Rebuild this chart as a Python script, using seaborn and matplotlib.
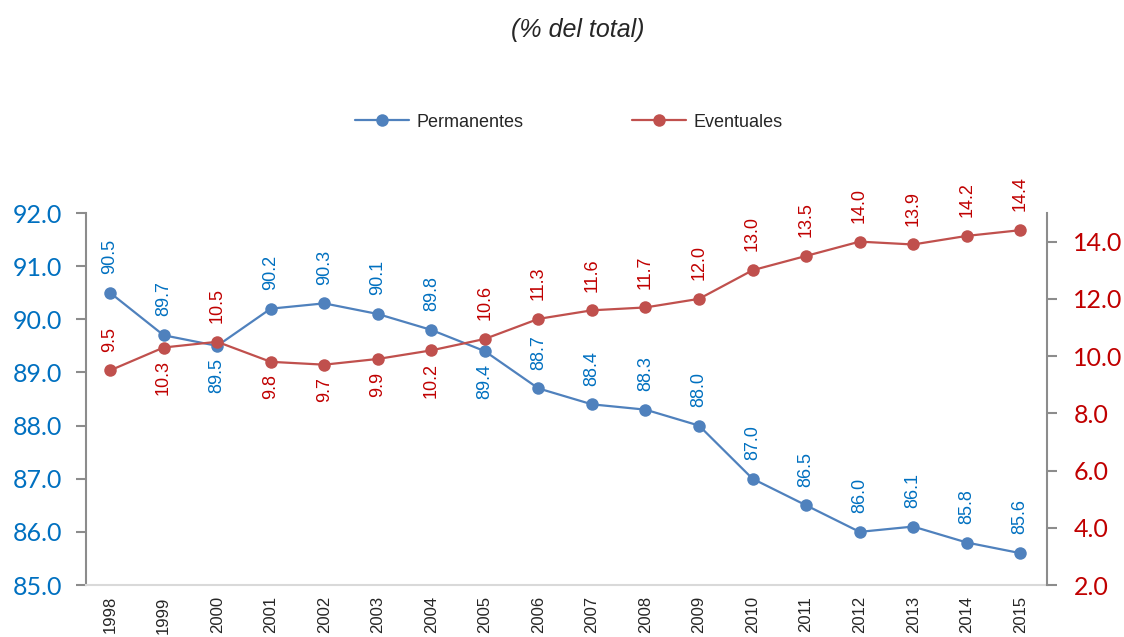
#!/usr/bin/env python3

import pandas as pd
import seaborn as sns
import matplotlib.pyplot as plt
import numpy as np

years = list(range(1998, 2016))
permanentes = [90.5, 89.7, 89.5, 90.2, 90.3, 90.1, 89.8, 89.4, 88.7, 88.4,
               88.3, 88.0, 87.0, 86.5, 86.0, 86.1, 85.8, 85.6]
eventuales = [9.5, 10.3, 10.5, 9.8, 9.7, 9.9, 10.2, 10.6, 11.3, 11.6,
              11.7, 12.0, 13.0, 13.5, 14.0, 13.9, 14.2, 14.4]

# where each data label sits relative to its marker
perm_side = ['up', 'up', 'down', 'up', 'up', 'up', 'up', 'down', 'up', 'up',
             'up', 'up', 'up', 'up', 'up', 'up', 'up', 'up']
even_side = ['up', 'down', 'up', 'down', 'down', 'down', 'down', 'up', 'up', 'up',
             'up', 'up', 'up', 'up', 'up', 'up', 'up', 'up']

BLUE_LINE = '#4F81BD'
RED_LINE = '#C0504D'
BLUE_TXT = '#0070C0'
RED_TXT = '#C00000'


def add_labels(ax, xs, ys, sides, color):
    for x, y, side in zip(xs, ys, sides):
        if side == 'up':
            off, va = 13.5, 'bottom'
        else:
            off, va = -9, 'top'
        ax.annotate(f'{y:.1f}', (x, y), xytext=(0, off), textcoords='offset points',
                    rotation=90, ha='center', va=va, color=color, fontsize=13)


def main():
    sns.set_style('white')
    plt.rcParams['font.family'] = ['Liberation Sans', 'DejaVu Sans']

    df = pd.DataFrame({'year': years, 'Permanentes': permanentes,
                       'Eventuales': eventuales})

    fig = plt.figure(figsize=(11.24, 6.37), dpi=100)
    ax = fig.add_axes([0.0765, 0.0816, 0.855, 0.584])
    ax2 = ax.twinx()

    sns.lineplot(data=df, x='year', y='Permanentes', ax=ax, color=BLUE_LINE,
                 marker='o', markersize=9, markeredgewidth=0, linewidth=1.6,
                 label='Permanentes', legend=False)
    sns.lineplot(data=df, x='year', y='Eventuales', ax=ax2, color=RED_LINE,
                 marker='o', markersize=9, markeredgewidth=0, linewidth=1.6,
                 label='Eventuales', legend=False)

    ax.set_xlim(years[0] - 0.45, years[-1] + 0.5)
    ax.set_ylim(85, 92)
    ax2.set_ylim(2, 15)
    ax.set_yticks(np.arange(85, 92.1, 1))
    ax2.set_yticks(np.arange(2, 14.1, 2))
    ax.set_yticklabels([f'{v:.1f}' for v in np.arange(85, 92.1, 1)],
                       color=BLUE_TXT, fontsize=18, family='Lato')
    ax2.set_yticklabels([f'{v:.1f}' for v in np.arange(2, 14.1, 2)],
                        color=RED_TXT, fontsize=18, family='Lato')
    ax.set_xticks(years)
    ax.set_xticklabels([str(y) for y in years], rotation=90, fontsize=12)

    ax.set_xlabel('')
    ax.set_ylabel('')
    ax2.set_ylabel('')

    for a in (ax, ax2):
        a.spines['top'].set_visible(False)
    ax.spines['right'].set_visible(False)
    ax2.spines['left'].set_visible(False)
    ax2.spines['bottom'].set_visible(False)
    ax.spines['left'].set_color('#8C8C8C')
    ax.spines['left'].set_linewidth(1.5)
    ax2.spines['right'].set_color('#8C8C8C')
    ax2.spines['right'].set_linewidth(1.5)
    ax.spines['bottom'].set_color('#D9D9D9')
    ax.spines['bottom'].set_linewidth(1.5)

    ax.tick_params(axis='y', which='major', direction='out', length=7, width=1.5,
                   color='#8C8C8C', pad=10, left=True)
    ax2.tick_params(axis='y', which='major', direction='out', length=7, width=1.5,
                    color='#8C8C8C', pad=12, right=True)
    ax.tick_params(axis='x', length=0, pad=8)

    add_labels(ax, years, permanentes, perm_side, BLUE_TXT)
    add_labels(ax2, years, eventuales, even_side, RED_TXT)

    h1, l1 = ax.get_legend_handles_labels()
    h2, l2 = ax2.get_legend_handles_labels()
    fig.legend(h1 + h2, l1 + l2, loc='center', bbox_to_anchor=(0.506, 0.808),
               ncol=2, frameon=False, fontsize=13, handlelength=3.0,
               handletextpad=0.4, columnspacing=6.0)

    fig.text(0.514, 0.953, '(% del total)', ha='center', va='center',
             fontsize=18, style='italic')

    plt.savefig('out.png', format='png')


if __name__ == '__main__':
    main()
